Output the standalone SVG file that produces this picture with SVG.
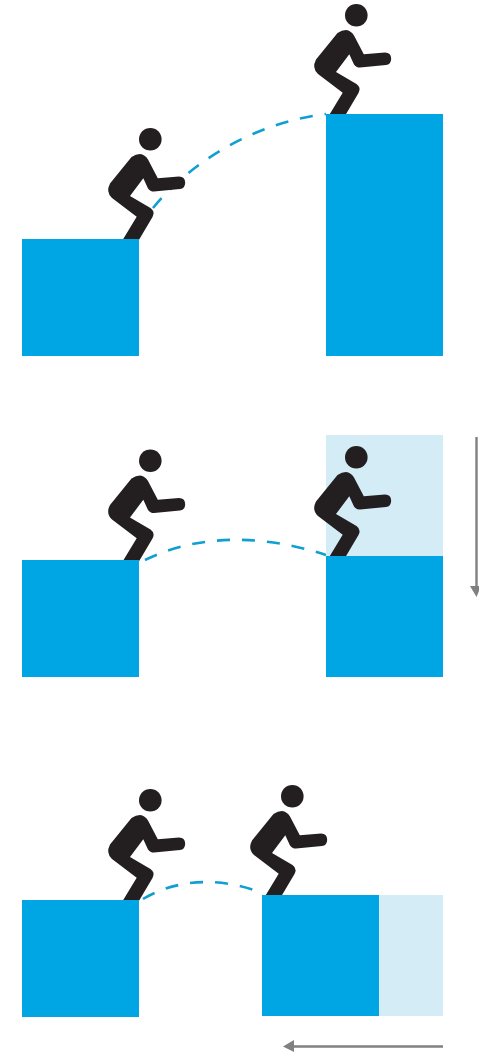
<svg xmlns="http://www.w3.org/2000/svg" width="479" height="1052" viewBox="0 0 479 1052">
<style>
.box{fill:#00a6e4}
.ghost{fill:#d3ecf6}
.dash{fill:none;stroke:#0f9fd0;stroke-width:2.6;stroke-dasharray:13 12}
.arrow{fill:none;stroke:#808080;stroke-width:2.4}
.head{fill:#808080}
.figure{fill:#231f20}
</style>
<defs>
<g id="person">
<circle class="figure" cx="150.300" cy="139.300" r="11.300"/>
<path class="figure" d="M131.500 157Q136 154 140 154Q145 154.500 148 159.500L157.800 178.300L179 176.600Q185 176.600 185.200 182.800Q185 188.600 180 189L154 191.600Q150 191.600 148 188.500L143.300 178.300L130 196L150.500 208Q155.500 211.500 152.500 217L138.300 241H122L136.700 216.700L112 198Q105.500 192 110 183.500Z"/>
</g>
</defs>
<g id="connectors">
<path class="dash" d="M153 208C195 157 260 122 326 114"/>
<path class="dash" d="M145 560C198 534 262 534 326 555"/>
<path class="dash" d="M143 899C180 877 225 878 262 893"/>
<path class="arrow" d="M476.500 437V588"/>
<path class="head" d="M470 586H481L476.500 597Z"/>
<path class="arrow" d="M443 1046.500H292"/>
<path class="head" d="M294 1040V1052L283 1046.500Z"/>
</g>
<g id="step1-person-a"><use href="#person"/></g>
<g id="step1-person-b"><use href="#person" x="206" y="-124"/></g>
<g id="step1-box-a"><rect class="box" x="22" y="239" width="117" height="117"/></g>
<g id="step1-box-b"><rect class="box" x="326" y="114" width="117" height="242"/></g>
<g id="step2-ghost"><rect class="ghost" x="326" y="435" width="117" height="121"/></g>
<g id="step2-person-a"><use href="#person" y="321.500"/></g>
<g id="step2-person-b"><use href="#person" x="206" y="318"/></g>
<g id="step2-box-a"><rect class="box" x="22" y="560" width="117" height="117"/></g>
<g id="step2-box-b"><rect class="box" x="326" y="556" width="117" height="121"/></g>
<g id="step3-ghost"><rect class="ghost" x="379" y="895" width="64" height="121"/></g>
<g id="step3-person-a"><use href="#person" y="661"/></g>
<g id="step3-person-b"><use href="#person" x="142" y="657"/></g>
<g id="step3-box-a"><rect class="box" x="22" y="900" width="117" height="117"/></g>
<g id="step3-box-b"><rect class="box" x="262" y="895" width="117" height="121"/></g>
</svg>
